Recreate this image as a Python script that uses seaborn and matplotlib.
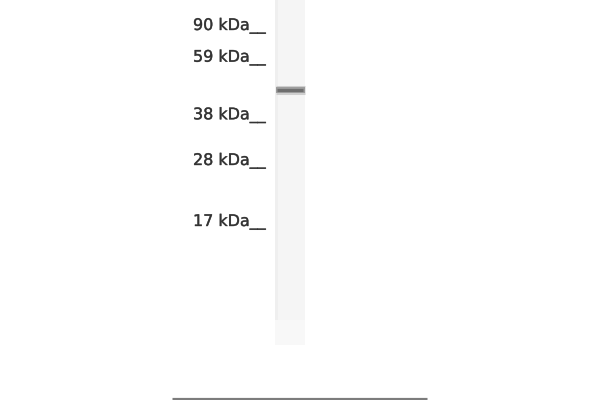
import matplotlib
matplotlib.use('Agg')
import matplotlib.pyplot as plt
import matplotlib.patheffects as pe
import seaborn as sns
import pandas as pd

# ---- data ----
marker_labels = ['90 kDa', '59 kDa', '38 kDa', '28 kDa', '17 kDa']
marker_migration = [30, 61.7, 119.3, 165, 226]   # migration distance (px from gel top)
band_migration = [89.5]                           # observed sample band
lane_length = [345]

sns.set_theme(style='white')
plt.rcParams['font.family'] = ['DejaVu Sans']

fig = plt.figure(figsize=(6, 4), dpi=100)
ax = fig.add_axes([0, 0, 1, 1])
ax.set_xlim(0, 600)
ax.set_ylim(400, 0)
ax.axis('off')

LANE_L, LANE_R = 275, 305

# lane background (very faint)
ax.fill_betweenx([0, lane_length[0]], LANE_L, LANE_R, color='#f5f5f5', lw=0)
ax.fill_betweenx([0, lane_length[0]], LANE_L, LANE_L + 3, color='#efefef', lw=0)
ax.fill_betweenx([lane_length[0] - 25, lane_length[0]], LANE_L, LANE_R, color='#f8f8f8', lw=0)

# sample band
for b in band_migration:
    band = pd.DataFrame({'x': [LANE_L + 1, LANE_R], 'y': [b, b]})
    sns.lineplot(data=band, x='x', y='y', ax=ax, color='#cfcfcf', lw=6.5,
                 solid_capstyle='butt', legend=False)
    sns.lineplot(data=band, x='x', y='y', ax=ax, color='#9a9a9a', lw=4.2,
                 solid_capstyle='butt', legend=False)
    sns.lineplot(data=band.assign(x=[LANE_L + 2, LANE_R - 2]), x='x', y='y', ax=ax,
                 color='#6e6e6e', lw=2.2, solid_capstyle='butt', legend=False)

# marker labels
for lab, m in zip(marker_labels, marker_migration):
    ax.text(193, m, lab + '__', fontsize=11.5, color='#333333',
            ha='left', va='baseline',
            path_effects=[pe.withStroke(linewidth=0.35, foreground='#666666')])

# bottom rule
rule = pd.DataFrame({'x': [172, 427], 'y': [398.5, 398.5]})
sns.lineplot(data=rule, x='x', y='y', ax=ax, color='#7c7c7c', lw=2.3,
             solid_capstyle='butt', legend=False)

ax.set_xlim(0, 600)
ax.set_ylim(400, 0)
ax.axis('off')
fig.savefig('out.png', dpi=100)
